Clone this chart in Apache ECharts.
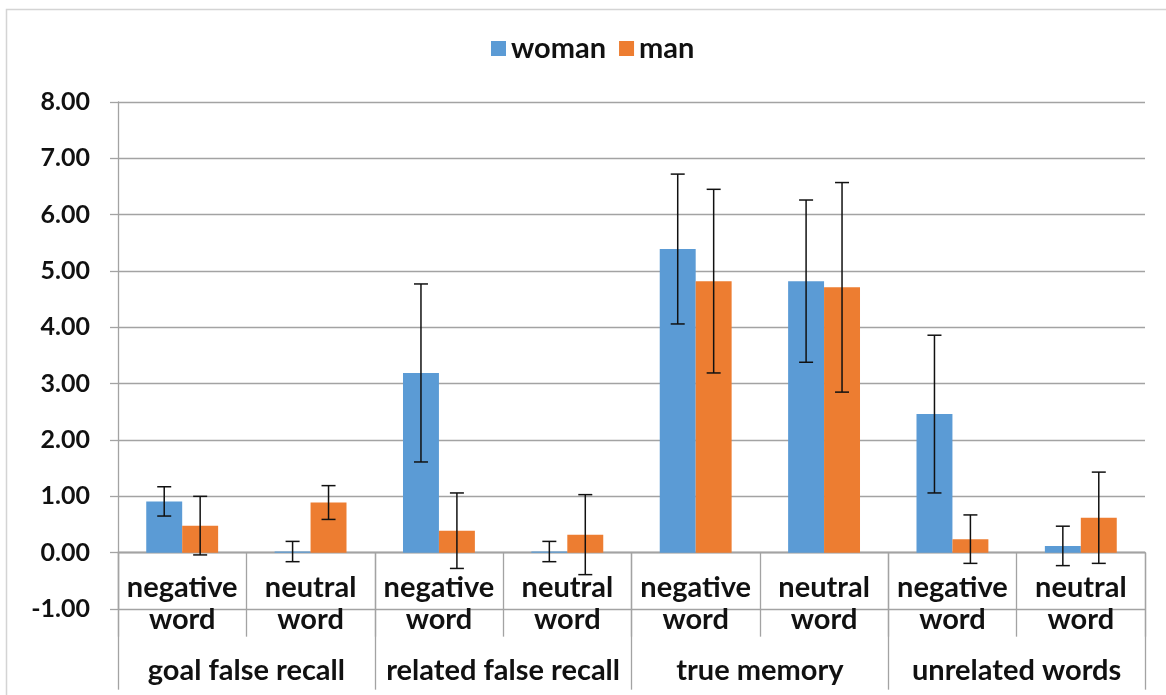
<!DOCTYPE html>
<html>
<head>
<meta charset="utf-8">
<script src="https://cdn.jsdelivr.net/npm/echarts@6/dist/echarts.min.js"></script>
<style>
  html, body { margin: 0; padding: 0; background: #fff; }
  #chart { width: 1166px; height: 695px; }
</style>
</head>
<body>
<div id="chart"></div>
<script>
// categories
const groups = ['goal false recall', 'related false recall', 'true memory', 'unrelated words'];
const wordTypes = ['negative\nword', 'neutral\nword', 'negative\nword', 'neutral\nword',
  'negative\nword', 'neutral\nword', 'negative\nword', 'neutral\nword'];

// means and error bar half-widths
const womanMean = [0.91, 0.02, 3.19, 0.02, 5.39, 4.82, 2.46, 0.12];
const womanErr = [0.26, 0.18, 1.58, 0.18, 1.33, 1.44, 1.40, 0.35];
const manMean = [0.48, 0.89, 0.39, 0.32, 4.82, 4.71, 0.24, 0.62];
const manErr = [0.52, 0.30, 0.67, 0.71, 1.63, 1.86, 0.43, 0.81];

const FONT = 'Lato';
const gridColor = '#a3a3a3';
const txt = { fontFamily: FONT, fontWeight: 'bold', fontSize: 29, color: '#111' };

// grid: 9 units over 507px, so the zero line sits one unit above the bottom
const GRID_H = 507;
const zeroOffset = -GRID_H / 9;

const chart = echarts.init(document.getElementById('chart'));

// error bar drawn at the centre of its bar (offset is a fraction of the band)
function errorBar(offset) {
  return function (params, api) {
    const i = api.value(0), m = api.value(1), e = api.value(2);
    const band = api.size([1, 0])[0];
    const hi = api.coord([i, m + e]);
    const lo = api.coord([i, m - e]);
    const x = hi[0] + offset * band;
    const cap = 7;
    const style = { stroke: '#111', lineWidth: 1.5 };
    return {
      type: 'group',
      children: [
        { type: 'line', shape: { x1: x, y1: hi[1], x2: x, y2: lo[1] }, style },
        { type: 'line', shape: { x1: x - cap, y1: hi[1], x2: x + cap, y2: hi[1] }, style },
        { type: 'line', shape: { x1: x - cap, y1: lo[1], x2: x + cap, y2: lo[1] }, style }
      ]
    };
  };
}

const option = {
  animation: false,
  color: ['#5b9bd5', '#ed7d31'],
  graphic: [{
    type: 'rect',
    shape: { x: 6.5, y: 9.5, width: 1200, height: 720 },
    style: { fill: 'none', stroke: '#d4d4d4', lineWidth: 1.5 },
    z: -1
  }],
  legend: {
    data: ['woman', 'man'],
    left: 486,
    top: 29,
    icon: 'rect',
    itemWidth: 15,
    itemHeight: 15,
    itemGap: 13,
    textStyle: Object.assign({}, txt, { lineHeight: 29 })
  },
  grid: { left: 118, right: 21, top: 102, bottom: 86, outerBoundsMode: 'none' },
  xAxis: [
    {
      type: 'category',
      data: wordTypes,
      position: 'bottom',
      offset: zeroOffset,
      axisLine: { onZero: false, lineStyle: { color: gridColor, width: 1.3 } },
      axisTick: { show: true, interval: 0, length: 84, lineStyle: { color: gridColor, width: 1.3 } },
      axisLabel: Object.assign({ interval: 0, margin: 19, lineHeight: 32 }, txt)
    },
    {
      type: 'category',
      data: groups,
      position: 'bottom',
      offset: zeroOffset,
      axisLine: { onZero: false, lineStyle: { color: gridColor, width: 1.3 } },
      axisTick: { show: true, interval: 0, length: 137, lineStyle: { color: gridColor, width: 1.3 } },
      axisLabel: Object.assign({ interval: 0, margin: 103, lineHeight: 30 }, txt)
    }
  ],
  yAxis: {
    type: 'value',
    min: -1,
    max: 8,
    interval: 1,
    axisLine: { show: true, lineStyle: { color: gridColor, width: 1.3 } },
    axisTick: { show: true, length: 8, lineStyle: { color: gridColor, width: 1.3 } },
    splitLine: { lineStyle: { color: gridColor, width: 1.3 } },
    axisLabel: Object.assign({}, txt, { margin: 28, fontSize: 25, formatter: v => v.toFixed(2) })
  },
  series: [
    { name: 'woman', type: 'bar', data: womanMean, barWidth: '28%', barGap: '0%' },
    { name: 'man', type: 'bar', data: manMean, barWidth: '28%', barGap: '0%' },
    {
      name: 'woman err', type: 'custom', z: 5,
      renderItem: errorBar(-0.14),
      encode: { x: 0, y: 1 },
      data: womanMean.map((m, i) => [i, m, womanErr[i]])
    },
    {
      name: 'man err', type: 'custom', z: 5,
      renderItem: errorBar(0.14),
      encode: { x: 0, y: 1 },
      data: manMean.map((m, i) => [i, m, manErr[i]])
    }
  ]
};

chart.setOption(option);
</script>
</body>
</html>
